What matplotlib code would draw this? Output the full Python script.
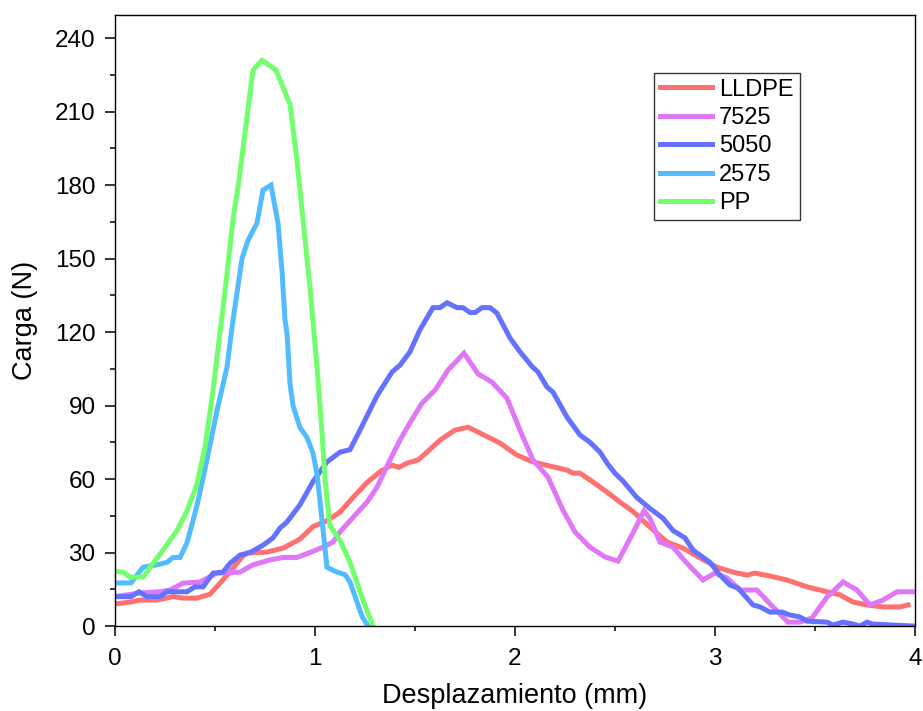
import numpy as np
import matplotlib
matplotlib.use('Agg')
import matplotlib.pyplot as plt
from matplotlib.ticker import MultipleLocator

plt.rcParams['font.family'] = ['Liberation Sans', 'DejaVu Sans']

# LLDPE
x_lldpe = [0, 0.075, 0.125, 0.21, 0.29, 0.34, 0.41, 0.475, 0.525, 0.59, 0.635, 0.66, 0.76, 0.84,
           0.925, 0.99, 1.06, 1.125, 1.19, 1.26, 1.33, 1.385, 1.42, 1.46, 1.515, 1.56, 1.625, 1.70,
           1.765, 1.825, 1.925, 2.01, 2.09, 2.19, 2.26, 2.29, 2.325, 2.39, 2.46, 2.525, 2.59, 2.675,
           2.76, 2.84, 2.925, 3.01, 3.09, 3.16, 3.2, 3.275, 3.36, 3.46, 3.56, 3.625, 3.69, 3.76,
           3.84, 3.925, 3.965]
y_lldpe = [9, 9.8, 10.6, 10.6, 12, 11.4, 11.4, 13, 17.5, 23.6, 28.2, 29.8, 30.2, 31.8,
           35.5, 40.6, 43, 46.5, 52.5, 58.6, 63.3, 65.7, 64.8, 66.5, 67.8, 71, 75.9, 80,
           81.2, 78.8, 74.7, 69.8, 67, 65, 63.7, 62.4, 62.4, 58.8, 54.7, 50.6, 46.8, 40.4,
           34.3, 31.8, 27.8, 24, 22, 20.8, 21.6, 20.4, 18.8, 16, 14, 12.7, 9.8, 8.6,
           7.8, 7.8, 8.6]

# 7525
x_7525 = [0, 0.125, 0.225, 0.275, 0.34, 0.425, 0.51, 0.625, 0.69, 0.775, 0.84, 0.91, 0.99, 1.06,
          1.09, 1.125, 1.175, 1.26, 1.31, 1.375, 1.425, 1.475, 1.535, 1.6, 1.665, 1.745, 1.815,
          1.885, 1.96, 2.025, 2.09, 2.165, 2.24, 2.3, 2.375, 2.45, 2.515, 2.59, 2.645, 2.675,
          2.725, 2.79, 2.86, 2.94, 3.0, 3.06, 3.125, 3.21, 3.29, 3.365, 3.425, 3.485, 3.56,
          3.64, 3.71, 3.775, 3.84, 3.91, 3.99]
y_7525 = [12, 13.5, 14, 14.7, 17.5, 18, 21.6, 22, 25, 27, 28, 28, 30.5, 33,
          34.3, 38.4, 43, 50.6, 56.7, 67.8, 75.9, 83, 91, 96.3, 104.5, 111.4, 103,
          99.6, 93, 80, 67.8, 60.8, 47.3, 38.4, 32.2, 28.2, 26.5, 38, 47, 44,
          34.3, 32.2, 25.6, 18.8, 21.6, 19.6, 14.7, 14.7, 7.8, 1.6, 1.6, 3.3, 11.8,
          18, 14.7, 8.6, 10.6, 14, 14]

# 5050
x_5050 = [0, 0.08, 0.12, 0.16, 0.225, 0.26, 0.36, 0.40, 0.44, 0.49, 0.54, 0.575, 0.625, 0.675,
          0.74, 0.79, 0.825, 0.86, 0.925, 0.99, 1.06, 1.125, 1.175, 1.225, 1.31, 1.385, 1.425,
          1.475, 1.525, 1.59, 1.625, 1.66, 1.71, 1.74, 1.775, 1.8, 1.835, 1.875, 1.91, 1.975,
          2.025, 2.085, 2.115, 2.16, 2.19, 2.26, 2.325, 2.375, 2.425, 2.465, 2.5, 2.54, 2.61,
          2.675, 2.74, 2.79, 2.85, 2.89, 2.975, 3.025, 3.075, 3.115, 3.16, 3.19, 3.225, 3.275,
          3.335, 3.375, 3.425, 3.46, 3.56, 3.59, 3.64, 3.69, 3.725, 3.76, 3.79, 3.99]
y_5050 = [12, 12, 14, 12, 12, 14, 14, 16, 16, 21.6, 22, 25.6, 29, 30,
          33, 36, 40, 42.5, 49.5, 59, 67, 71, 72, 80, 94, 103.7, 106.5,
          112, 121, 130, 130, 132, 130, 130, 128, 128, 130, 130, 127.7, 117.6,
          112, 106, 103.7, 97.6, 95.5, 85.3, 78, 75, 71, 66, 62.4, 59.2, 52.4,
          48, 44, 39, 36, 31, 26, 20.8, 16.7, 15.5, 11.4, 8.6, 7.8, 5.7,
          5.7, 4.5, 3.7, 2, 1.6, 0.4, 1.6, 0.8, 0, 1.6, 0.8, 0]

# 2575
x_2575 = [0, 0.08, 0.14, 0.21, 0.26, 0.29, 0.325, 0.36, 0.39, 0.415, 0.46, 0.51, 0.56, 0.585,
          0.635, 0.665, 0.71, 0.74, 0.78, 0.815, 0.835, 0.85, 0.86, 0.875, 0.89, 0.925, 0.96,
          0.99, 1.01, 1.025, 1.06, 1.11, 1.15, 1.175, 1.235, 1.265]
y_2575 = [17.6, 17.6, 24, 25, 26, 28, 28, 34, 43, 51, 68, 88, 105.7, 122,
          150, 157.5, 164.5, 178, 180, 164.5, 145, 125, 119.6, 99, 90, 81, 77,
          70.6, 62, 51, 24, 22, 21, 18, 4, 0]

# PP
x_pp = [0, 0.04, 0.075, 0.14, 0.19, 0.24, 0.31, 0.36, 0.41, 0.45, 0.49, 0.525, 0.545, 0.59,
        0.62, 0.66, 0.69, 0.735, 0.805, 0.84, 0.875, 0.91, 0.94, 0.975, 1.01, 1.035, 1.05,
        1.075, 1.125, 1.175, 1.24, 1.29]
y_pp = [22.4, 22, 20, 20, 25.6, 31, 39, 47, 58, 73, 96, 120, 133, 166,
        182, 208, 227, 231, 227, 220, 213, 190, 166, 138, 106, 79, 60,
        41, 35, 26, 10.6, 0]

series = [
    ('LLDPE', x_lldpe, y_lldpe, '#FF7070'),
    ('7525', x_7525, y_7525, '#E077F7'),
    ('5050', x_5050, y_5050, '#6473FF'),
    ('2575', x_2575, y_2575, '#52BCFF'),
    ('PP', x_pp, y_pp, '#72FF6E'),
]

fig = plt.figure(figsize=(9.23, 7.11), dpi=100)
ax = fig.add_axes([0.1246, 0.1195, 0.8667, 0.8598])

for name, xs, ys, c in series:
    ax.plot(xs, ys, color=c, lw=3.6, label=name, solid_joinstyle='miter')

ax.set_xlim(0, 4)
ax.set_ylim(0, 249.6)
ax.xaxis.set_major_locator(MultipleLocator(1))
ax.xaxis.set_minor_locator(MultipleLocator(0.5))
ax.yaxis.set_major_locator(MultipleLocator(30))
ax.yaxis.set_minor_locator(MultipleLocator(15))
ax.tick_params(which='major', direction='out', length=7.5, width=1.1, labelsize=17.5)
ax.tick_params(axis='x', which='major', pad=8)
ax.tick_params(axis='y', which='major', pad=6.5)
ax.tick_params(which='minor', direction='out', length=3.6, width=1.1)
for s in ax.spines.values():
    s.set_linewidth(1.0)

ax.set_xlabel('Desplazamiento (mm)', fontsize=19.5, labelpad=10)
ax.set_ylabel('Carga (N)', fontsize=19.5, labelpad=12)

leg = ax.legend(loc='upper left', bbox_to_anchor=(0.674, 0.905), borderaxespad=0,
                fontsize=17, handlelength=2.2, handletextpad=0.3, labelspacing=0.27,
                borderpad=0.25, fancybox=False, frameon=True)
leg.get_frame().set_edgecolor('black')
leg.get_frame().set_linewidth(1.0)

fig.savefig('out.png', dpi=100)
